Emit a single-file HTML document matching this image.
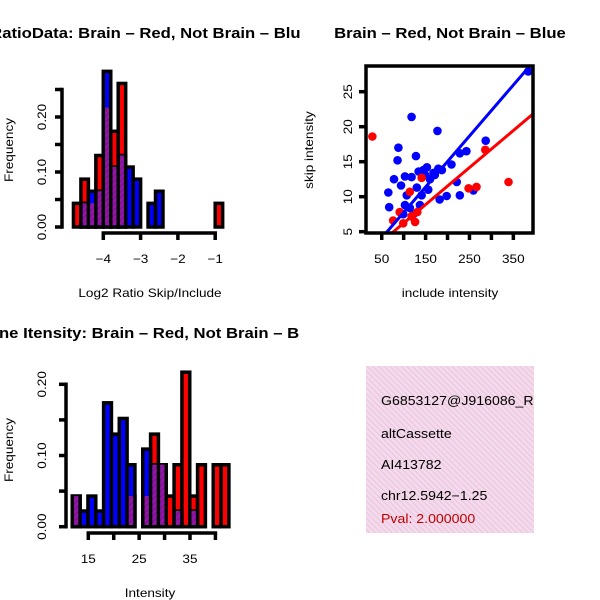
<!DOCTYPE html>
<html><head><meta charset="utf-8"><style>
html,body{margin:0;padding:0;background:#fff;}
svg{display:block;font-family:"Liberation Sans",sans-serif;}
</style></head><body>
<svg id="fig" width="600" height="600" xmlns="http://www.w3.org/2000/svg">
<defs>
<pattern id="purp" patternUnits="userSpaceOnUse" width="4" height="4" patternTransform="rotate(45)">
<rect width="4" height="4" fill="#a010b0"/><rect width="2" height="4" fill="#7a1a8a"/>
</pattern>
<pattern id="pinkp" patternUnits="userSpaceOnUse" width="4" height="4" patternTransform="rotate(-45)">
<rect width="4" height="4" fill="#fad6f4"/><rect width="1.2" height="4" fill="#dcd2cc"/>
</pattern>
<clipPath id="cl"><rect x="0" y="0" width="300" height="600"/></clipPath>
<clipPath id="csc"><rect x="366" y="66" width="167" height="167"/></clipPath>
</defs>
<g id="g1"></g>
<g id="g2"></g>
<g id="g3"></g>
<g id="g4">
<rect x="366" y="366" width="168" height="167" fill="url(#pinkp)"/>
<g font-size="12.5" fill="#000">
<text x="381" y="405">G6853127@J916086_RC</text>
<text x="381" y="438">altCassette</text>
<text x="381" y="469">AI413782</text>
<text x="381" y="500">chr12.5942−1.25</text>
<text x="381" y="523" fill="#c00000">Pval: 2.000000</text>
</g>
</g>
<rect id="cover" x="534" y="360" width="66" height="180" fill="#fff"/>
</svg>
<script>
// ---- data: ratio histogram ----
const ratioBinStart = -4.8;
const ratioBinWidth = 0.2;
const ratioRed  = [0.043,0.087,0.043,0.130,0.217,0.174,0.261,0,0,0,0,0,0,0,0,0,0,0,0,0.043];
const ratioBlue = [0,0.043,0.065,0.065,0.283,0.109,0.130,0.109,0.087,0,0.043,0.065,0,0,0,0,0,0,0,0];
const ratioYTicks = [0,0.05,0.10,0.15,0.20,0.25];
const ratioYLabels = ["0.00","0.10","0.20"];
const ratioXTicks = [-4,-3,-2,-1];
// ---- data: scatter ----
const blueX = [384,118,177,88,287,86,128,65,67,78,103,94,130,209,228,243,198,182,228,259,221,153,145,168,160,156,141,118,107,103,114,99,122,137,179,187,171,149,134];
const blueY = [27.9,21.4,19.4,17.0,18.0,15.2,15.8,10.6,8.5,12.5,12.9,11.6,11.3,14.6,16.2,16.5,10.1,9.6,10.2,10.9,12.1,14.2,13.8,13.4,12.5,11.0,10.2,12.8,10.2,8.8,8.4,7.5,7.5,8.8,14.0,13.8,13.1,13.1,13.6];
const redX = [28.6,339,286,248,266,141,114,76,91,126,131,118,99];
const redY = [18.6,12.1,16.7,11.2,11.4,12.7,10.7,6.6,7.8,6.4,7.8,7.2,6.2];
const fitSlope = [0.0728,0.0529];
const fitIntercept = [0.47,0.94];
const scXTicks = [50,100,150,200,250,300,350];
const scXLabels = [50,150,250,350];
const scYTicks = [5,10,15,20,25];
// ---- data: intensity histogram ----
const intBinStart = 11.85;
const intBinWidth = 1.54;
const intRed  = [0.043,0,0,0,0,0,0,0.043,0,0.043,0.130,0.087,0.043,0.087,0.217,0.043,0.087,0,0.087,0.087];
const intBlue = [0.043,0.022,0.043,0.022,0.174,0.130,0.152,0.087,0,0.109,0.087,0.087,0,0.022,0,0.022,0,0,0,0];
const intYTicks = [0,0.05,0.10,0.15,0.20];
const intYLabels = ["0.00","0.10","0.20"];
const intXTicks = [15,20,25,30,35,40];
const intXLabels = [15,25,35];

const NS="http://www.w3.org/2000/svg";
function mk(parent,tag,attrs,text){const e=document.createElementNS(NS,tag);for(const k in attrs)e.setAttribute(k,attrs[k]);if(text!==undefined)e.textContent=text;parent.appendChild(e);return e;}

function hist(g,start,w,red,blue,xs,ys){
  const y0=ys(0);
  for(let i=0;i<red.length;i++){
    const a=xs(start+i*w),b=xs(start+(i+1)*w);
    const r=mk(g,'rect',{x:a,y:ys(red[i]),width:b-a,height:y0-ys(red[i]),fill:'#ff0000',stroke:'#000','stroke-width':3.5});
    
    
  }
  for(let i=0;i<blue.length;i++){
    const a=xs(start+i*w),b=xs(start+(i+1)*w);
    if(blue[i]<=0)continue;
    const r=mk(g,'rect',{x:a,y:ys(blue[i]),width:b-a,height:y0-ys(blue[i]),fill:'#0000ff',stroke:'#000','stroke-width':3.5});
    
    
  }
  for(let i=0;i<red.length;i++){
    const m=Math.min(red[i],blue[i]); if(m<=0)continue;
    const a=xs(start+i*w),b=xs(start+(i+1)*w);
    const r=mk(g,'rect',{x:a+1.75,y:ys(m),width:b-a-3.5,height:y0-ys(m)-1.75,fill:'url(#purp)'});
    
    
  }
}
function yaxis(g,x,ticks,labels,ys,lx){
  mk(g,'line',{x1:x,x2:x,y1:ys(ticks[0]),y2:ys(ticks[ticks.length-1]),stroke:'#000','stroke-width':3.5,'stroke-linecap':'square'});
  ticks.forEach(t=>mk(g,'line',{x1:x,x2:x-7,y1:ys(t),y2:ys(t),stroke:'#000','stroke-width':3.5}));
  labels.forEach(l=>{const v=parseFloat(l);const t=mk(g,'text',{x:lx,y:ys(v),'font-size':12,'text-anchor':'middle',transform:`rotate(-90 ${lx} ${ys(v)})`},l);
    
    });
}
function xaxis(g,y,ticks,labels,xs,ly){
  mk(g,'line',{x1:xs(ticks[0]),x2:xs(ticks[ticks.length-1]),y1:y,y2:y,stroke:'#000','stroke-width':3.5,'stroke-linecap':'square'});
  ticks.forEach(t=>mk(g,'line',{x1:xs(t),x2:xs(t),y1:y,y2:y+7,stroke:'#000','stroke-width':3.5}));
  labels.forEach(l=>{const t=mk(g,'text',{x:xs(l),y:ly,'font-size':12,'text-anchor':'middle'},String(l).replace('-','\u2212'));
    
    });
}

// Panel 1
(function(){
  const g=document.getElementById('g1');
  const xs=v=>103.3+(v+4)*37.3, ys=v=>227-v*550;
  hist(g,ratioBinStart,ratioBinWidth,ratioRed,ratioBlue,xs,ys);
  yaxis(g,62,ratioYTicks,ratioYLabels,ys,46);
  xaxis(g,233,ratioXTicks,ratioXTicks,xs,263);
  const t=mk(g,'text',{x:150,y:38,'font-size':14.5,'font-weight':'bold','text-anchor':'middle','clip-path':'url(#cl)','class':'ttl'},'RatioData: Brain \u2013 Red, Not Brain \u2013 Blue');
  
  const xl=mk(g,'text',{x:150,y:297,'font-size':12,'text-anchor':'middle'},'Log2 Ratio Skip/Include');
  
  const yl=mk(g,'text',{x:13,y:150,'font-size':12,'text-anchor':'middle',transform:'rotate(-90 13 150)'},'Frequency');
  
})();

// Panel 2
(function(){
  const g=document.getElementById('g2');
  const xs=v=>359.8+v*0.4387, ys=v=>231.7-(v-5)*7;
  const pts=mk(g,'g',{'clip-path':'url(#csc)'});
  blueX.forEach((x,i)=>{const c=mk(pts,'circle',{cx:xs(x),cy:ys(blueY[i]),r:4.3,fill:'#0000ff'});
    });
  redX.forEach((x,i)=>{const c=mk(pts,'circle',{cx:xs(x),cy:ys(redY[i]),r:4.3,fill:'#ff0000'});
    });
  const cols=['#0000ff','#ff0000'];
  fitSlope.forEach((s,i)=>{const l=mk(pts,'line',{x1:xs(0),y1:ys(fitIntercept[i]),x2:xs(420),y2:ys(fitIntercept[i]+s*420),stroke:cols[i],'stroke-width':3});
    });
  mk(g,'rect',{x:366,y:66,width:167,height:167,fill:'none',stroke:'#000','stroke-width':3.5});
  scXTicks.forEach(t=>mk(g,'line',{x1:xs(t),x2:xs(t),y1:233,y2:240,stroke:'#000','stroke-width':3.5}));
  scXLabels.forEach(l=>{const t=mk(g,'text',{x:xs(l),y:263,'font-size':12,'text-anchor':'middle'},l);});
  scYTicks.forEach(v=>{mk(g,'line',{x1:366,x2:359,y1:ys(v),y2:ys(v),stroke:'#000','stroke-width':3.5});
    const t=mk(g,'text',{x:352,y:ys(v),'font-size':12,'text-anchor':'middle',transform:`rotate(-90 352 ${ys(v)})`},v);
    });
  const ti=mk(g,'text',{x:450,y:38,'font-size':14.5,'font-weight':'bold','text-anchor':'middle','class':'ttl'},'Brain \u2013 Red, Not Brain \u2013 Blue');
  
  const xl=mk(g,'text',{x:450,y:297,'font-size':12,'text-anchor':'middle'},'include intensity');
  
  const yl=mk(g,'text',{x:313,y:150,'font-size':12,'text-anchor':'middle',transform:'rotate(-90 313 150)'},'skip intensity');
  
})();

// Panel 3
(function(){
  const g=document.getElementById('g3');
  const xs=v=>88.3+(v-15)*5.085, ys=v=>526.7-v*712;
  hist(g,intBinStart,intBinWidth,intRed,intBlue,xs,ys);
  yaxis(g,66,intYTicks,intYLabels,ys,46);
  xaxis(g,533,intXTicks,intXLabels,xs,563);
  const t=mk(g,'text',{x:150,y:338,'font-size':14.5,'font-weight':'bold','text-anchor':'middle','clip-path':'url(#cl)','class':'ttl'},'Gene Itensity: Brain \u2013 Red, Not Brain \u2013 Blue');
  
  const xl=mk(g,'text',{x:150,y:597,'font-size':12,'text-anchor':'middle'},'Intensity');
  
  const yl=mk(g,'text',{x:13,y:450,'font-size':12,'text-anchor':'middle',transform:'rotate(-90 13 450)'},'Frequency');
  
})();

// widen text to match R's wider Helvetica metrics
document.querySelectorAll('#fig text').forEach(t=>{
  const w=t.getComputedTextLength();
  const f=t.classList.contains('ttl')?1.15:1.13;
  if(w>0){t.setAttribute('textLength',(w*f).toFixed(1));t.setAttribute('lengthAdjust','spacingAndGlyphs');}
});
</script>
</body></html>
